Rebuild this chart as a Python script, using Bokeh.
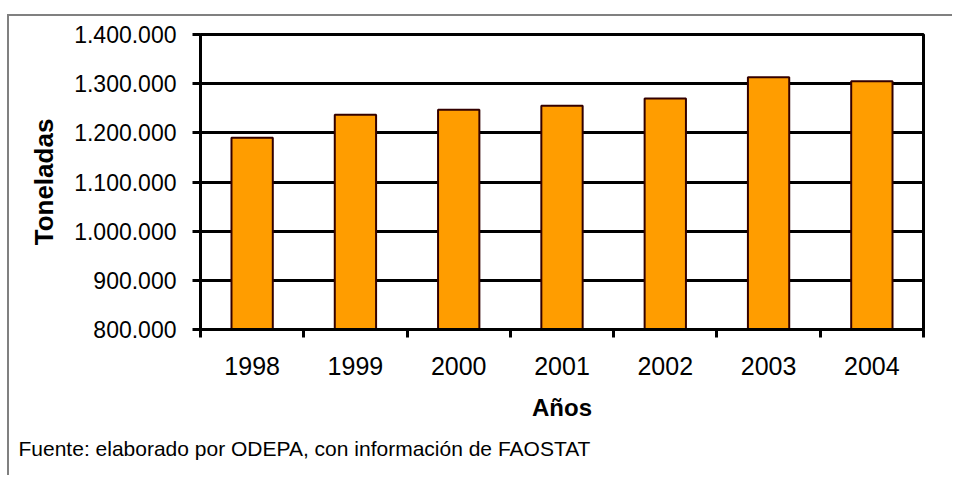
from bokeh.plotting import figure
from bokeh.models import Range1d, FixedTicker, Title
from bokeh.embed import file_html
from bokeh.resources import INLINE

years = ["1998", "1999", "2000", "2001", "2002", "2003", "2004"]
toneladas = [1190000, 1237000, 1247000, 1255000, 1270000, 1313000, 1305000]
y_ticks = [800000, 900000, 1000000, 1100000, 1200000, 1300000, 1400000]
y_tick_labels = ["800.000", "900.000", "1.000.000", "1.100.000", "1.200.000", "1.300.000", "1.400.000"]
x_title = "Años"
y_title = "Toneladas"
source_note = "Fuente: elaborado por ODEPA, con información de FAOSTAT"

FONT = "Liberation Sans"

xs = list(range(1, len(years) + 1))

p = figure(width=945, height=461, output_backend="svg", toolbar_location=None,
           x_range=Range1d(0.5, len(years) + 0.5), y_range=Range1d(800000, 1400000),
           min_border_left=191, min_border_right=31, min_border_top=18, min_border_bottom=148)
p.styles = {"margin-top": "16px", "margin-left": "9px",
            "box-shadow": "-2px -2px 0 0 #808080"}
p.background_fill_color = "white"
p.border_fill_color = "white"
p.outline_line_color = "black"
p.outline_line_width = 3

p.vbar(x=xs, top=toneladas, bottom=800000, width=0.4,
       fill_color="#FF9D00", line_color="#330000", line_width=2)

# axes
p.xaxis.ticker = FixedTicker(ticks=xs, minor_ticks=[x - 0.5 for x in xs] + [len(xs) + 0.5])
p.xaxis.major_label_overrides = {x: y for x, y in zip(xs, years)}
p.xaxis.major_tick_line_color = None
p.xaxis.minor_tick_line_color = "black"
p.xaxis.minor_tick_line_width = 3
p.xaxis.minor_tick_out = 8
p.xaxis.minor_tick_in = 0
p.xaxis.major_tick_out = 8
p.xaxis.major_label_standoff = 19
p.xaxis.major_label_text_font = FONT
p.xaxis.major_label_text_font_size = "25px"
p.xaxis.major_label_text_color = "black"
p.xaxis.axis_line_width = 3
p.xaxis.axis_line_color = "black"
p.xaxis.axis_label = x_title
p.xaxis.axis_label_text_font = FONT
p.xaxis.axis_label_text_font_size = "24px"
p.xaxis.axis_label_text_font_style = "bold"
p.xaxis.axis_label_text_color = "black"
p.xaxis.axis_label_standoff = 16

p.yaxis.ticker = FixedTicker(ticks=y_ticks)
p.yaxis.major_label_overrides = {t: l for t, l in zip(y_ticks, y_tick_labels)}
p.yaxis.major_tick_out = 8
p.yaxis.major_tick_in = 0
p.yaxis.major_tick_line_width = 3
p.yaxis.minor_tick_line_color = None
p.yaxis.major_label_standoff = 16
p.yaxis.major_label_text_font = FONT
p.yaxis.major_label_text_font_size = "23px"
p.yaxis.major_label_text_color = "black"
p.yaxis.axis_line_width = 3
p.yaxis.axis_line_color = "black"
p.yaxis.axis_label = y_title
p.yaxis.axis_label_text_font = FONT
p.yaxis.axis_label_text_font_size = "26px"
p.yaxis.axis_label_text_font_style = "bold"
p.yaxis.axis_label_text_color = "black"
p.yaxis.axis_label_standoff = 12

p.xgrid.grid_line_color = None
p.ygrid.grid_line_color = "black"
p.ygrid.grid_line_width = 3

p.add_layout(Title(text=source_note, align="left", offset=-182, standoff=22,
                   text_font=FONT, text_font_size="21px", text_font_style="normal",
                   text_color="black"), "below")

open("out.html", "w").write(file_html(p, INLINE))
